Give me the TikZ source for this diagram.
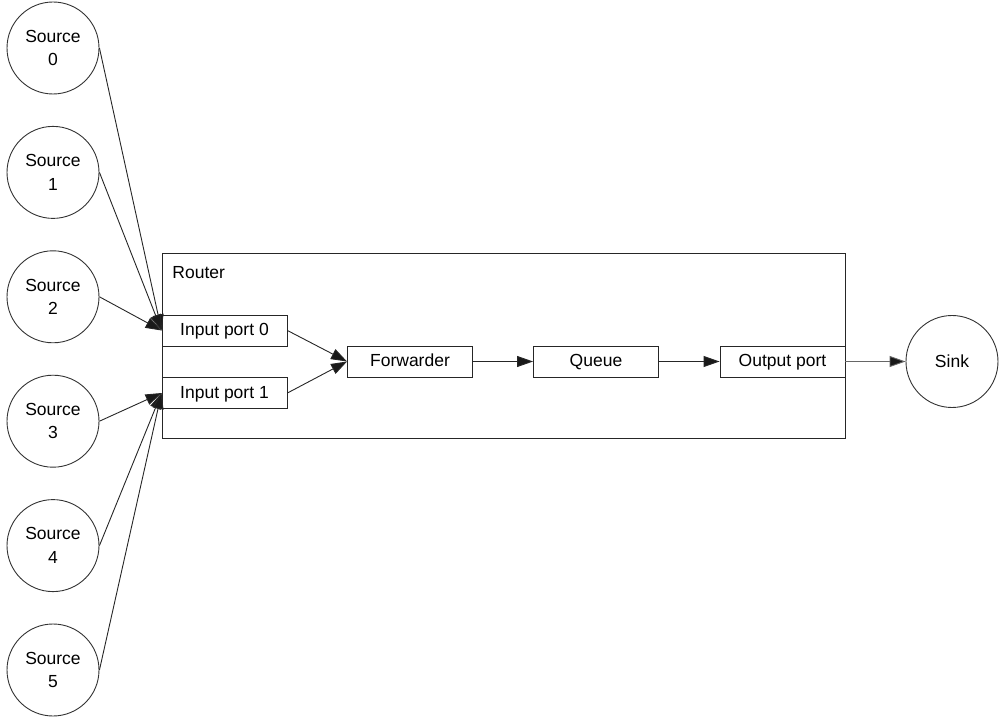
\documentclass[tikz,border=0pt]{standalone}
\usepackage{fontspec}
\setmainfont{Liberation Sans}
\usetikzlibrary{arrows.meta, positioning}

\begin{document}
\begin{tikzpicture}[x=1pt, y=-1pt,
    font=\fontsize{17.5}{23.5}\selectfont, line width=0.9pt,
    src/.style={draw=black!80, circle, minimum size=92pt, inner sep=0pt, align=center},
    blk/.style={draw=black!85, minimum width=125pt, minimum height=31pt, inner sep=0pt,
                text height=13.5pt, text depth=2.5pt},
    arr/.style={-{Triangle[length=16pt, width=11pt, fill=black!90]}, black!85}]
  \useasboundingbox (0,0) rectangle (1002,719);
  % router frame
  \node[draw=black!85, minimum width=683pt, minimum height=185pt, inner sep=0pt]
        (router) at (503.5,345.5) {};
  \node[anchor=west, inner sep=0pt] (rlabel) at (172,273) {Router};
  % blocks inside the router
  \node[blk] (in0) at (224.5,330.5) {Input port 0};
  \node[blk] (in1) at (224.5,393) {Input port 1};
  \node[blk] (fwd) at (410,361.5) {Forwarder};
  \node[blk] (queue) at (596,361.5) {Queue};
  \node[blk] (out) at (782.5,361.5) {Output port};
  % sources and sink
  \foreach \i in {0,...,5}
    \node[src] (s\i) at (53,48+124.4*\i) {Source\\\i};
  \node[src] (sink) at (952,361.5) {Sink};
  % connectors
  \foreach \i in {0,1,2} \draw[arr] (s\i.east) -- (in0.west);
  \foreach \i in {3,4,5} \draw[arr] (s\i.east) -- (in1.west);
  \draw[arr] (in0.east) -- (fwd.west); \draw[arr] (in1.east) -- (fwd.west);
  \draw[arr] (fwd) -- (queue); \draw[arr] (queue) -- (out);
  \draw[arr, black!60] (out) -- (sink);
\end{tikzpicture}
\end{document}
